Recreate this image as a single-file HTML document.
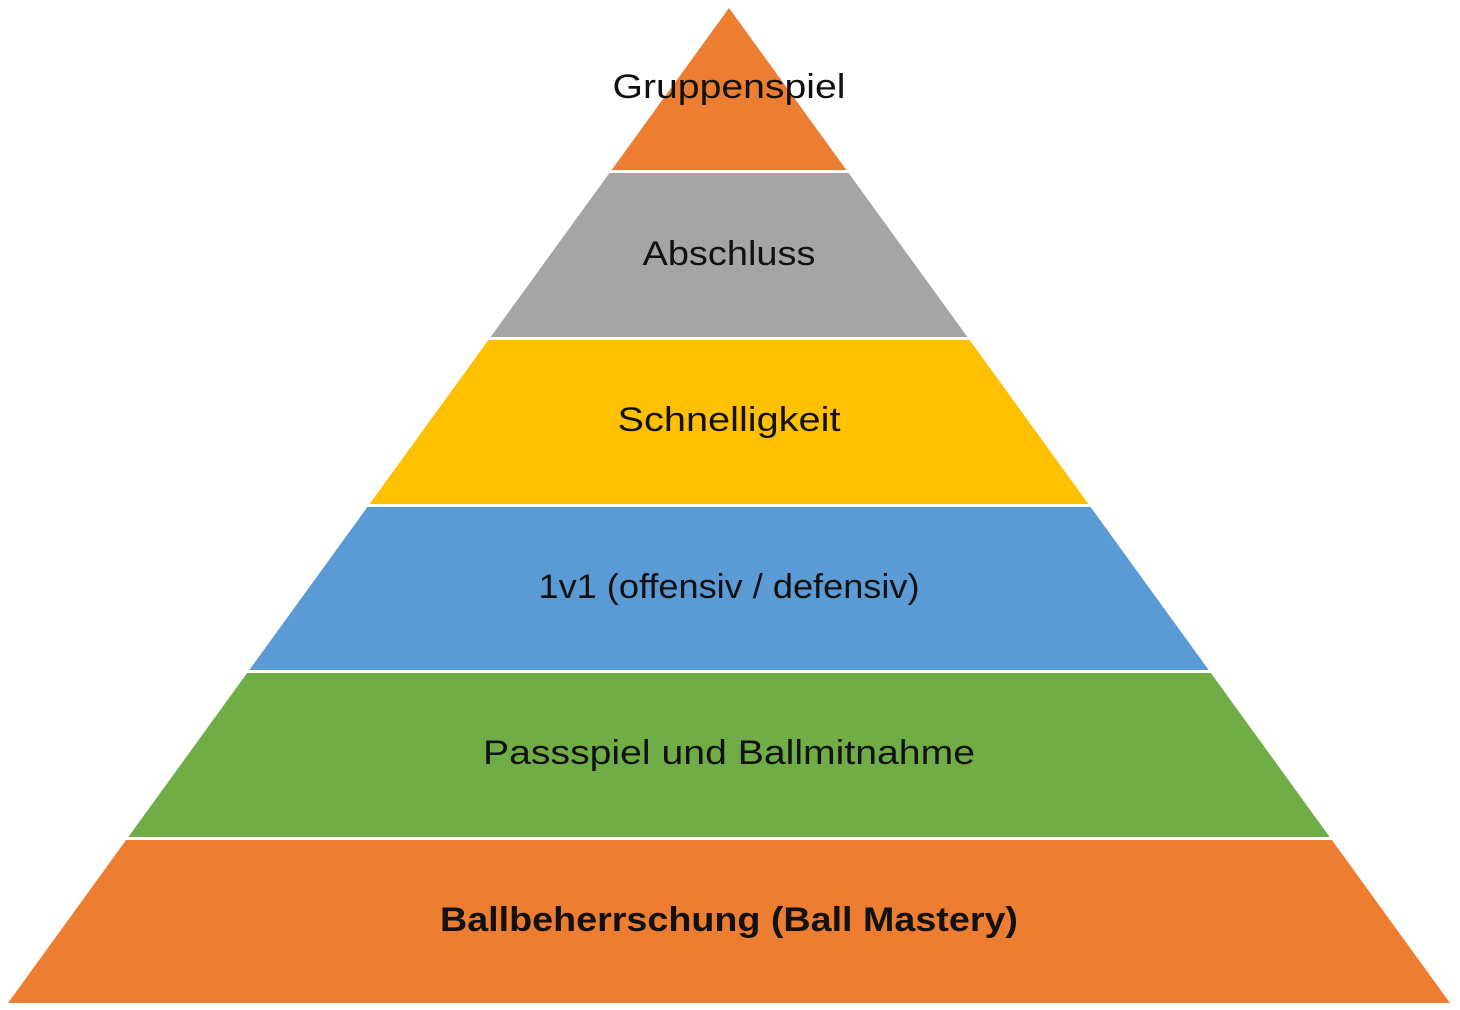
<!DOCTYPE html>
<html><head><style>
html,body{margin:0;padding:0;background:#fff;}
svg{display:block;}
text{font-family:"Liberation Sans",sans-serif;font-size:34px;fill:#111;text-anchor:middle;dominant-baseline:central;}
</style></head><body>
<svg width="1460" height="1010" viewBox="0 0 1460 1010">
<polygon points="729,8 846.4,170 611.6,170" fill="#ED7D31"/>
<polygon points="609.4,173 848.6,173 967.4,337 490.6,337" fill="#A5A5A5"/>
<polygon points="488.4,340 969.6,340 1088.4,504 369.6,504" fill="#FFC000"/>
<polygon points="367.4,507 1090.6,507 1208.7,670 249.3,670" fill="#5B9BD5"/>
<polygon points="247.1,673 1210.9,673 1329.7,837 128.3,837" fill="#70AD47"/>
<polygon points="126.1,840 1331.9,840 1450,1003 8,1003" fill="#ED7D31"/>
<text x="729" y="87" textLength="233" lengthAdjust="spacingAndGlyphs">Gruppenspiel</text>
<text x="729" y="254" textLength="173" lengthAdjust="spacingAndGlyphs">Abschluss</text>
<text x="729" y="420" textLength="223" lengthAdjust="spacingAndGlyphs">Schnelligkeit</text>
<text x="729" y="587" textLength="381" lengthAdjust="spacingAndGlyphs">1v1 (offensiv / defensiv)</text>
<text x="729" y="753" textLength="492" lengthAdjust="spacingAndGlyphs">Passspiel und Ballmitnahme</text>
<text x="729" y="920" font-weight="bold" textLength="578" lengthAdjust="spacingAndGlyphs">Ballbeherrschung (Ball Mastery)</text>
</svg>
</body></html>
